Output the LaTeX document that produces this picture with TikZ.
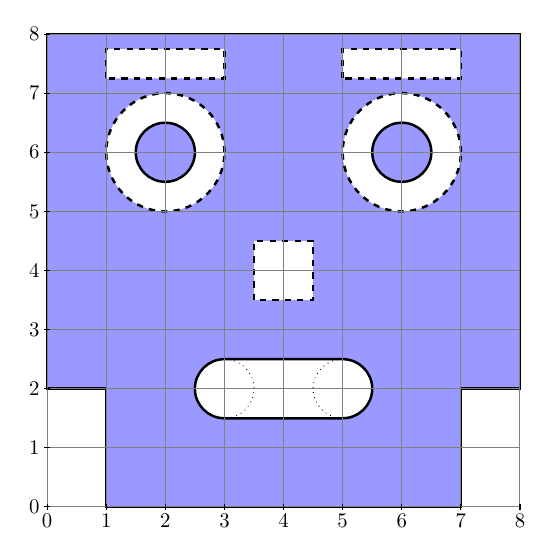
\documentclass[tikz,border=0pt]{standalone}
\begin{document}
\begin{tikzpicture}[
  holefill/.style={fill=blue!40, even odd rule},
  helpgrid/.style={gray, line width=0.5pt},
  edge/.style={very thick, line join=miter},
  dashedge/.style={very thick, dashed},
  dotarc/.style={dotted, line width=0.4pt},
  tick/.style={line width=0.5pt}
]
\useasboundingbox (-0.797,-0.864) rectangle (8.576,8.576);
% filled region with holes
\path[holefill]
  (0,2) -- (0,8) -- (8,8) -- (8,2) -- (7,2) -- (7,0) -- (1,0) -- (1,2) -- cycle
  (1,7.25) rectangle (3,7.75)
  (5,7.25) rectangle (7,7.75)
  (2,6) circle (1) (2,6) circle (0.5)
  (6,6) circle (1) (6,6) circle (0.5)
  (3.5,3.5) rectangle (4.5,4.5)
  (3,1.5) -- (5,1.5) arc (-90:90:0.5) -- (3,2.5) arc (90:270:0.5) -- cycle;
% outlines
\draw[edge] (0,2) -- (0,8) -- (8,8) -- (8,2) -- (7,2) -- (7,0) -- (1,0) -- (1,2) -- cycle;
\draw[dashedge] (1,7.25) rectangle (3,7.75);
\draw[dashedge] (5,7.25) rectangle (7,7.75);
\draw[dashedge] (2,6) circle (1);
\draw[dashedge] (6,6) circle (1);
\draw[edge] (2,6) circle (0.5);
\draw[edge] (6,6) circle (0.5);
\draw[dashedge] (3.5,3.5) rectangle (4.5,4.5);
\draw[edge] (3,1.5) -- (5,1.5) arc (-90:90:0.5) -- (3,2.5) arc (90:270:0.5) -- cycle;
\draw[dotarc] (3,2.5) arc (90:-90:0.5);
\draw[dotarc] (5,2.5) arc (90:270:0.5);
% grid on top
\draw[helpgrid] (0,0) grid (8,8);
% ticks and labels
\foreach \i in {0,...,8} {
  \draw[tick] (\i,-0.05) -- (\i,0.05);
  \node[below, inner sep=2pt] (xl\i) at (\i,-0.05) {$\i$};
  \draw[tick] (-0.05,\i) -- (0.05,\i);
  \node[left, inner sep=2pt] (yl\i) at (-0.05,\i) {$\i$};
}
\end{tikzpicture}
\end{document}
